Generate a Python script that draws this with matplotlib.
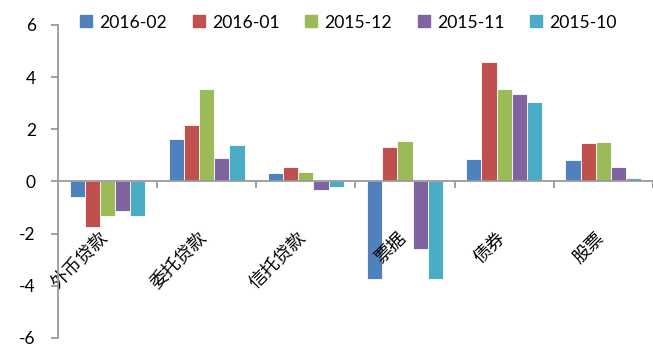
import numpy as np
import matplotlib
matplotlib.use("Agg")
import matplotlib.pyplot as plt
from matplotlib.lines import Line2D

# ── data ───────────────────────────────────────────────────────────────────────
categories = ["外币贷款", "委托贷款", "信托贷款", "票据", "债券", "股票"]
months = ["2016-02", "2016-01", "2015-12", "2015-11", "2015-10"]

v_2016_02 = [-0.58, 1.64, 0.31, -3.72, 0.86, 0.81]
v_2016_01 = [-1.74, 2.17, 0.55, 1.32, 4.58, 1.46]
v_2015_12 = [-1.32, 3.54, 0.36, 1.54, 3.55, 1.52]
v_2015_11 = [-1.14, 0.90, -0.31, -2.58, 3.35, 0.55]
v_2015_10 = [-1.33, 1.38, -0.21, -3.72, 3.04, 0.12]

series = [v_2016_02, v_2016_01, v_2015_12, v_2015_11, v_2015_10]
colors = ["#4F81BD", "#C0504D", "#9BBB59", "#8064A2", "#4BACC6"]

# ── figure ─────────────────────────────────────────────────────────────────────
fig = plt.figure(figsize=(6.53, 3.47), dpi=100)
ax = fig.add_axes([0.0888, 0.026, 0.911, 0.902])

x = np.arange(len(categories))
w = 0.153
for k, (vals, c) in enumerate(zip(series, colors)):
    ax.bar(x + (k - 2) * w, vals, width=w, color=c,
           edgecolor="white", linewidth=0.6, zorder=2)

ax.set_xlim(-0.5, len(categories) - 0.5)
ax.set_ylim(-6, 6)
ax.set_yticks([-6, -4, -2, 0, 2, 4, 6])
ax.set_yticklabels(["-6", "-4", "-2", "0", "2", "4", "6"])

for s in ["top", "right"]:
    ax.spines[s].set_visible(False)
ax.spines["bottom"].set_position(("data", 0))
for s in ["left", "bottom"]:
    ax.spines[s].set_color("#9a9a9a")
    ax.spines[s].set_linewidth(1.3)
    ax.spines[s].set_zorder(3)

ax.set_xticks(np.arange(len(categories)) + 0.5)
ax.set_xticklabels([])
ax.tick_params(axis="x", direction="out", length=5, color="#9a9a9a", width=1.3)
ax.tick_params(axis="y", direction="out", length=5, color="#9a9a9a", width=1.3,
               labelsize=12.5, pad=11)
for lab in ax.get_yticklabels():
    lab.set_family("Lato")

# rotated category names just under the zero line
for i, name in enumerate(categories):
    ax.annotate(name, xy=(i, 0), xytext=(-1.5, -39), textcoords="offset points",
                rotation=45, rotation_mode="anchor", ha="right", va="center",
                fontsize=13, fontweight="light",
                family=["Noto Sans CJK SC", "DejaVu Sans"],
                annotation_clip=False)

handles = [Line2D([], [], marker="s", linestyle="none", markersize=8,
                  markerfacecolor=c, markeredgecolor=c) for c in colors]
fig.legend(handles, months, loc="center", bbox_to_anchor=(0.534, 0.935),
           ncol=5, frameon=False, handlelength=0.64, handletextpad=0.42,
           columnspacing=1.5, borderpad=0.1,
           prop={"family": "Lato", "size": 12.6})

fig.savefig("out.png", dpi=100)
